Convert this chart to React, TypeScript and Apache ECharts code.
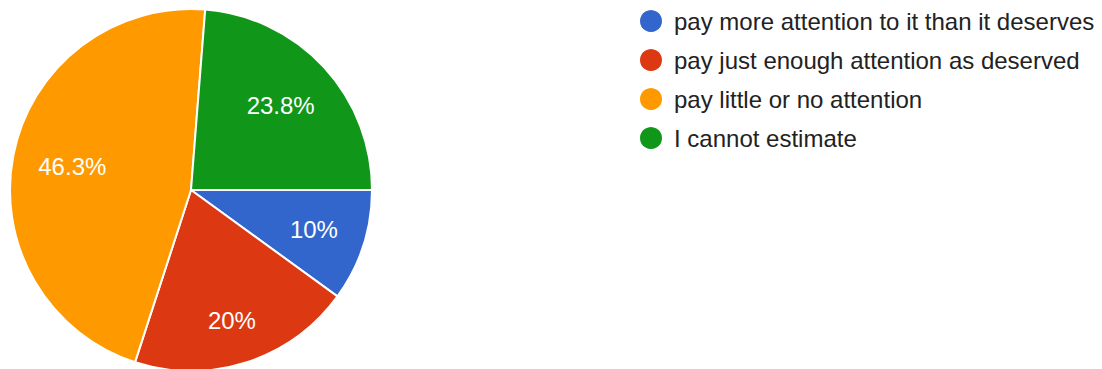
import React, { useEffect, useRef } from "react";
import * as echarts from "echarts";

const categories = [
  "pay more attention to it than it deserves",
  "pay just enough attention as deserved",
  "pay little or no attention",
  "I cannot estimate",
];
const counts = [8, 16, 37, 19];
const colors = ["#3366cc", "#dc3912", "#ff9900", "#109618"];
const labelOffsets: [number, number][] = [
  [34, 11],
  [12, 42],
  [-27, -5],
  [21, -21],
];

export default function App() {
  const ref = useRef<HTMLDivElement>(null);
  useEffect(() => {
    document.body.style.margin = "0";
    const chart = echarts.init(ref.current!, undefined, { renderer: "svg" });
    const total = counts.reduce((a, b) => a + b, 0);
    chart.setOption({
      animation: false,
      color: colors,
      legend: {
        orient: "vertical",
        left: 638,
        top: 8,
        padding: 0,
        icon: "circle",
        itemWidth: 24,
        itemHeight: 24,
        itemGap: 13,
        selectedMode: false,
        textStyle: {
          fontFamily: "Liberation Sans, Arial, sans-serif",
          fontSize: 24,
          color: "#222222",
          padding: [0, 0, 0, 6],
        },
        data: categories,
      },
      series: [
        {
          type: "pie",
          center: [191, 190],
          radius: 181,
          startAngle: 0,
          clockwise: true,
          avoidLabelOverlap: false,
          itemStyle: { borderColor: "#ffffff", borderWidth: 2 },
          label: {
            position: "inside",
            color: "#ffffff",
            fontSize: 24,
            fontFamily: "Liberation Sans, Arial, sans-serif",
            formatter: (p: any) => {
              const v = Math.round((p.value / total) * 1000) / 10;
              return `${v}%`;
            },
          },
          labelLine: { show: false },
          emphasis: { disabled: true },
          data: categories.map((name, i) => ({
            name,
            value: counts[i],
            label: { offset: labelOffsets[i] },
          })),
        },
      ],
    });
    return () => chart.dispose();
  }, []);
  return <div ref={ref} style={{ width: 1102, height: 369 }} />;
}
